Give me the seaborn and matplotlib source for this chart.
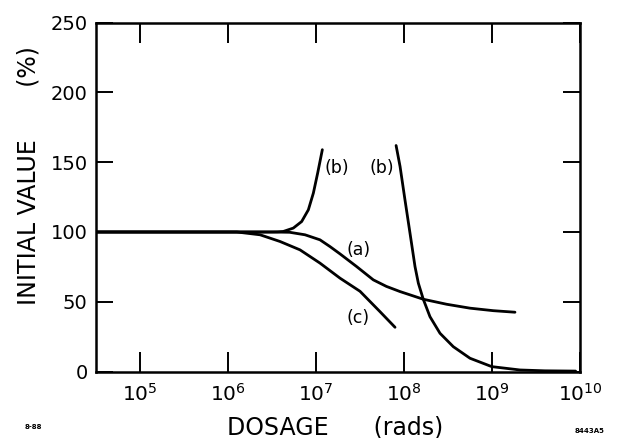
import numpy as np
import pandas as pd
import matplotlib
matplotlib.use("Agg")
import matplotlib.pyplot as plt
import seaborn as sns

# curve data: log10(dose in rads) and value in % of initial
a_logdose = [4.5, 6.5, 6.7, 6.875, 7.045, 7.16, 7.273, 7.462, 7.651, 7.80, 7.955, 8.219, 8.485, 8.75, 9.015, 9.261]
a_val = [100, 100, 99.8, 98, 94.4, 89.5, 84.3, 75.2, 65.7, 61, 57.3, 51.8, 48.2, 45.4, 43.6, 42.5]

b_low_logdose = [4.5, 6.5, 6.56, 6.629, 6.742, 6.837, 6.913, 6.970, 7.019, 7.072]
b_low_val = [100, 100, 100.1, 100.4, 102.8, 107.5, 115.9, 127.9, 142.3, 159]

b_high_logdose = [7.91, 7.955, 8.011, 8.068, 8.125, 8.163, 8.219, 8.295, 8.409, 8.56, 8.75, 8.997, 9.318, 9.6, 9.95]
b_high_val = [162, 147, 123, 99.2, 75.2, 63.3, 51.8, 39.3, 27.4, 17.8, 9.5, 3.5, 1.1, 0.5, 0.3]

c_logdose = [4.5, 6.1, 6.364, 6.591, 6.818, 7.045, 7.273, 7.5, 7.727, 7.898]
c_val = [100, 100, 98, 93.2, 87.2, 77.7, 66.9, 57.5, 42.9, 31.7]

curve_labels = ["(b)", "(b)", "(a)", "(c)"]
label_logdose = [7.235, 7.747, 7.48, 7.48]
label_val = [146, 146, 87, 38]

x_ticks = [1e5, 1e6, 1e7, 1e8, 1e9, 1e10]
x_tick_labels = ["$10^{5}$", "$10^{6}$", "$10^{7}$", "$10^{8}$", "$10^{9}$", "$10^{10}$"]
y_ticks = [0, 50, 100, 150, 200, 250]

sns.set_style("white")
plt.rcParams["font.family"] = ["DejaVu Sans"]
plt.rcParams["mathtext.default"] = "regular"
plt.rcParams["text.color"] = "black"

fig = plt.figure(figsize=(6.21, 4.38), dpi=100)
ax = fig.add_axes([0.1546, 0.1518, 0.7794, 0.7963])

for d, v in [(a_logdose, a_val), (b_low_logdose, b_low_val), (b_high_logdose, b_high_val), (c_logdose, c_val)]:
    df = pd.DataFrame({"dose": 10 ** np.array(d), "val": v})
    sns.lineplot(data=df, x="dose", y="val", ax=ax, color="black", linewidth=2.0, sort=False)

ax.set_xscale("log")
ax.set_xlim(10 ** 4.5, 1e10)
ax.set_ylim(0, 250)
ax.set_xticks(x_ticks)
ax.set_xticklabels(x_tick_labels)
ax.set_yticks(y_ticks)
ax.minorticks_off()
ax.tick_params(axis="both", direction="in", width=1.4, bottom=True, left=True, top=True, right=True,
               color="black", labelcolor="black")
ax.tick_params(axis="x", length=14.5, labelsize=14.5, pad=8)
ax.tick_params(axis="y", length=12.5, labelsize=14, pad=6)
for s in ax.spines.values():
    s.set_color("black")
    s.set_linewidth(1.8)

for t, x, y in zip(curve_labels, label_logdose, label_val):
    ax.text(10 ** x, y, t, fontsize=12.5, color="black", ha="center", va="center")

ax.set_xlabel("DOSAGE      (rads)", fontsize=17, color="black")
ax.xaxis.set_label_coords(0.494, -0.125)
ax.set_ylabel("INITIAL VALUE       (%)", fontsize=17, color="black")
ax.yaxis.set_label_coords(-0.115, 0.563)

fig.text(0.053, 0.025, "8-88", fontsize=5, fontweight="bold", color="black", ha="center", va="center")
fig.text(0.95, 0.016, "8443A5", fontsize=5, fontweight="bold", color="black", ha="center", va="center")

plt.savefig("out.png", dpi=100)
